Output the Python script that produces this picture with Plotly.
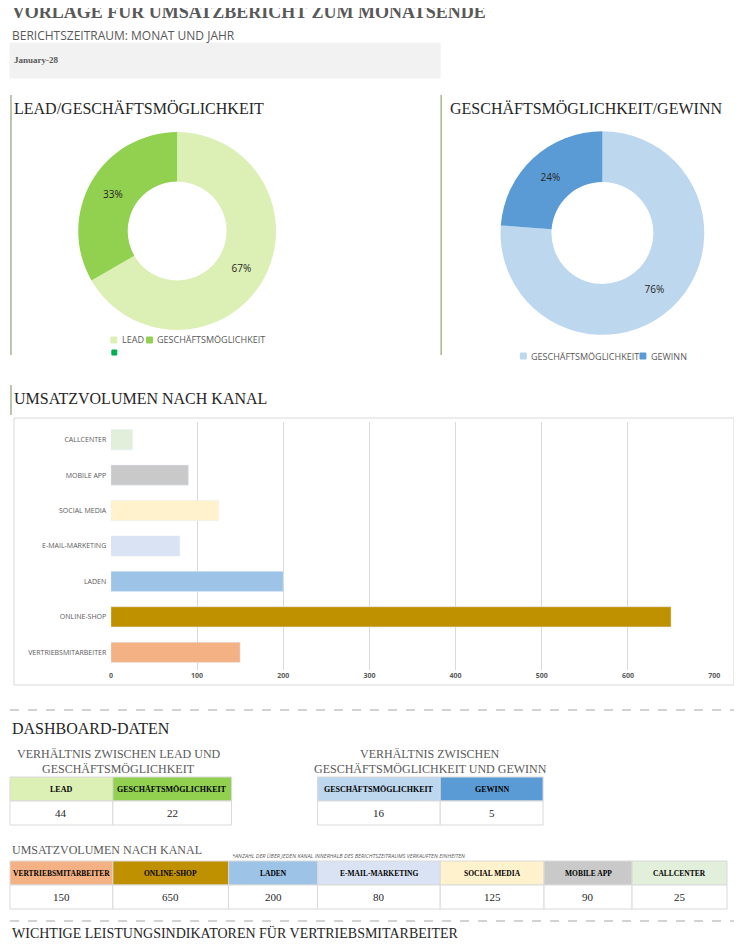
import plotly.graph_objects as go

W, H = 742, 949
OFF = 8  # the page's default body margin
FW, FH = W - 2 * OFF, H - 2 * OFF

lead_labels = ["LEAD", "GESCHÄFTSMÖGLICHKEIT"]
lead_values = [44, 22]
gew_labels = ["GESCHÄFTSMÖGLICHKEIT", "GEWINN"]
gew_values = [16, 5]
kanal = ["VERTRIEBSMITARBEITER", "ONLINE-SHOP", "LADEN", "E-MAIL-MARKETING",
         "SOCIAL MEDIA", "MOBILE APP", "CALLCENTER"]
kanal_values = [150, 650, 200, 80, 125, 90, 25]
kanal_colors = ["#f4b183", "#bf9000", "#9dc3e6", "#dae3f3", "#fff2cc", "#c9c9c9", "#e2efda"]
lead_colors = ["#dcefb4", "#92d050"]
gew_colors = ["#bdd7ee", "#5b9bd5"]

SERIF = "Liberation Serif"
SANS = "Open Sans"
GREY = "#595959"


def px(x):
    return max(0, (x - OFF) / FW)


def py(y):
    return min(1, 1 - (y - OFF) / FH)


fig = go.Figure()
shapes = []
ann = []


def text(x, y, s, size, font=SERIF, color=GREY, xanchor="left", bold=False):
    if bold:
        s = "<b>" + s + "</b>"
    ann.append(dict(x=px(x), y=py(y), xref="paper", yref="paper", text=s, showarrow=False,
                    xanchor=xanchor, yanchor="middle", font=dict(family=font, size=size, color=color)))


def rect(x0, y0, x1, y1, fill, line="#d9d9d9", width=1):
    shapes.append(dict(type="rect", xref="paper", yref="paper", x0=px(x0), x1=px(x1),
                       y0=py(y1), y1=py(y0), fillcolor=fill, line=dict(color=line, width=width), layer="below"))


def vline(x, y0, y1, color="#a5b592", width=1.5):
    shapes.append(dict(type="line", xref="paper", yref="paper", x0=px(x), x1=px(x),
                       y0=py(y0), y1=py(y1), line=dict(color=color, width=width)))


def hline(y, x0, x1, color="#a6a6a6", width=1, dash="dash"):
    shapes.append(dict(type="line", xref="paper", yref="paper", x0=px(x0), x1=px(x1),
                       y0=py(y), y1=py(y), line=dict(color=color, width=width, dash=dash)))


# header
text(4, 12, "<b>VORLAGE FÜR UMSATZBERICHT ZUM MONATSENDE</b>", 18)
text(4, 35, "BERICHTSZEITRAUM: MONAT UND JAHR", 12, font=SANS)
rect(3, 43, 443, 78, "#f2f2f2", line="#f2f2f2")
text(10, 60, "<b>January-28</b>", 9)

# pie sections
vline(9, 95, 355)
vline(444, 95, 355)
text(10, 109, "LEAD/GESCHÄFTSMÖGLICHKEIT", 16, color="#262626")
text(451, 109, "GESCHÄFTSMÖGLICHKEIT/GEWINN", 16, color="#262626")

pie_common = dict(hole=0.5, sort=False, direction="clockwise", rotation=0,
                  texttemplate="%{percent:.0%}", textposition="inside",
                  textfont=dict(family=SANS, size=10, color="#262626"),
                  marker_line=dict(color="white", width=0), showlegend=False, hoverinfo="label+value")
fig.add_trace(go.Pie(labels=lead_labels, values=lead_values, marker_colors=lead_colors,
                     domain=dict(x=[px(77), px(277)], y=[py(331), py(131)]), **pie_common))
fig.add_trace(go.Pie(labels=gew_labels, values=gew_values, marker_colors=gew_colors,
                     domain=dict(x=[px(504), px(710)], y=[py(336), py(130)]), **pie_common))

# pie legends
rect(110, 337, 116, 343, lead_colors[0], line=lead_colors[0])
text(119, 340, lead_labels[0], 9, font=SANS)
rect(146, 337, 152, 343, lead_colors[1], line=lead_colors[1])
text(155, 340, lead_labels[1], 9, font=SANS)
rect(111, 350, 116, 355, "#00b050", line="#00b050")
rect(524, 353, 530, 359, gew_colors[0], line=gew_colors[0])
text(533, 356, gew_labels[0], 9, font=SANS)
rect(645, 353, 651, 359, gew_colors[1], line=gew_colors[1])
text(654, 356, gew_labels[1], 9, font=SANS)

# bar chart
vline(9, 385, 415)
text(10, 398, "UMSATZVOLUMEN NACH KANAL", 16, color="#262626")
rect(12, 418, 740, 685, "white", line="#d9d9d9")
fig.add_trace(go.Bar(y=kanal, x=kanal_values, orientation="h", marker_color=kanal_colors,
                     width=0.57, showlegend=False, xaxis="x", yaxis="y"))

# dashboard data
hline(710, 3, 740)
text(4, 728, "DASHBOARD-DATEN", 16, color="#262626")
text(118, 754, "VERHÄLTNIS ZWISCHEN LEAD UND", 12, xanchor="center")
text(118, 769, "GESCHÄFTSMÖGLICHKEIT", 12, xanchor="center")
text(433, 754, "VERHÄLTNIS ZWISCHEN", 12, xanchor="center")
text(433, 769, "GESCHÄFTSMÖGLICHKEIT UND GEWINN", 12, xanchor="center")


def table(xs, y0, labels, values, colors, hsize=8):
    for i, (lab, val, c) in enumerate(zip(labels, values, colors)):
        x0, x1 = xs[i], xs[i + 1]
        rect(x0, y0, x1, y0 + 24, c, line="#d9d9d9")
        rect(x0, y0 + 24, x1, y0 + 48, "white", line="#d9d9d9")
        cx = (x0 + x1) / 2
        text(cx, y0 + 12, lab, hsize, xanchor="center", color="#000000", bold=True)
        text(cx, y0 + 36, str(val), 11, xanchor="center", color="#262626")


table([8, 112, 232], 777, lead_labels, lead_values, lead_colors)
table([319, 443, 547], 777, gew_labels, gew_values, gew_colors)

text(4, 850, "UMSATZVOLUMEN NACH KANAL", 12)
text(230, 856, "<i>*ANZAHL DER ÜBER JEDEN KANAL INNERHALB DES BERICHTSZEITRAUMS VERKAUFTEN EINHEITEN</i>",
     5.5, font=SANS)
table([8, 112, 229, 319, 443, 548, 637, 733], 861, kanal, kanal_values, kanal_colors, hsize=7.5)

hline(921, 3, 740)
text(4, 933, "WICHTIGE LEISTUNGSINDIKATOREN FÜR VERTRIEBSMITARBEITER", 14, color="#262626")

fig.update_layout(
    width=FW, height=FH, margin=dict(l=0, r=0, t=0, b=0),
    paper_bgcolor="white", plot_bgcolor="white",
    xaxis=dict(domain=[px(110), px(720)], anchor="y", range=[0, 700], dtick=100,
               showgrid=True, gridcolor="#d9d9d9", zeroline=False, showline=False,
               tickfont=dict(family=SANS, size=7, color=GREY), tickprefix="<b>", ticksuffix="</b>",
               fixedrange=True),
    yaxis=dict(domain=[py(670), py(422)], anchor="x", categoryorder="array",
               categoryarray=kanal,
               tickfont=dict(family=SANS, size=7, color=GREY), ticksuffix="  ", showgrid=False),
    shapes=shapes, annotations=ann,
)
fig.write_html("out.html")
